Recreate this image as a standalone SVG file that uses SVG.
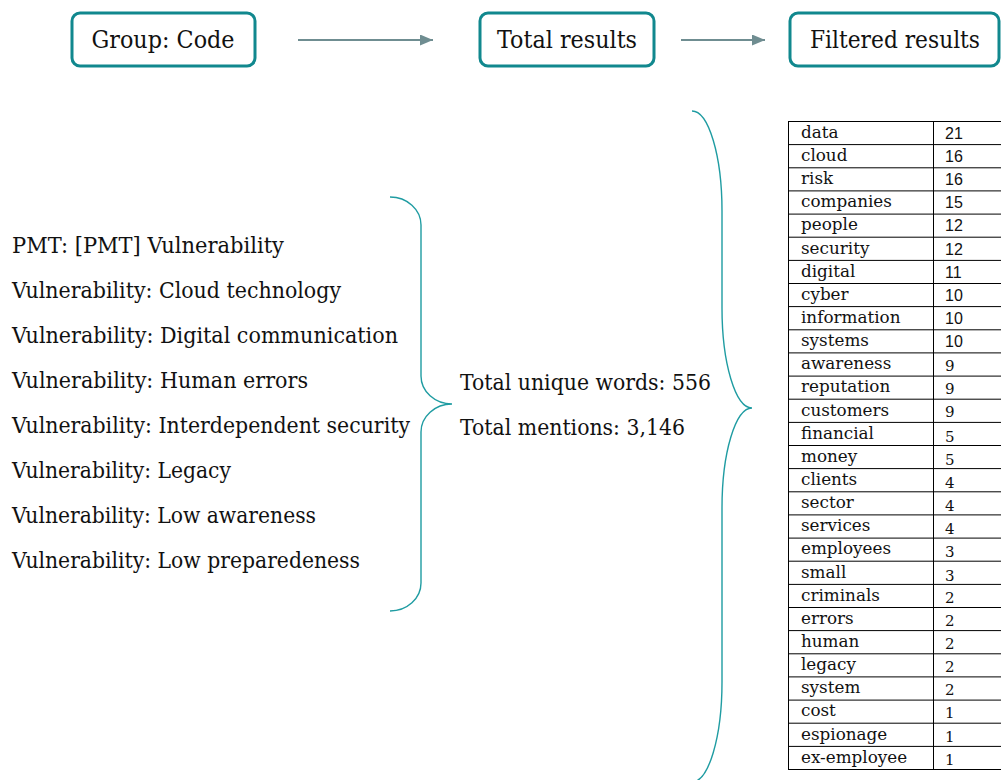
<svg xmlns="http://www.w3.org/2000/svg" width="1001" height="780" viewBox="0 0 1001 780">
  <style>
    .box { fill: #ffffff; stroke: #11888e; stroke-width: 3; }
    .hdr { font-family: "DejaVu Serif", "Liberation Serif", serif; font-size: 24px; fill: #111111; text-anchor: middle; }
    .lbl { font-family: "DejaVu Serif", "Liberation Serif", serif; font-size: 21.5px; fill: #111111; }
    .flow { stroke: #6f8d91; stroke-width: 2; fill: none; }
    .brace { stroke: #1f9ca2; stroke-width: 1.4; fill: none; }
    .grid { stroke: #000000; stroke-width: 1; fill: none; }
    .word { font-family: "DejaVu Serif", "Liberation Serif", serif; font-size: 16.8px; fill: #111111; }
    .num { font-family: "Liberation Sans", Arial, sans-serif; font-size: 16px; fill: #111111; }
    .numo { font-family: "DejaVu Serif", "Liberation Serif", serif; font-size: 15px; fill: #111111; }
  </style>
  <defs>
    <marker id="arrow" viewBox="0 0 13 11" refX="13" refY="5.5" markerWidth="13" markerHeight="11" markerUnits="userSpaceOnUse" orient="auto">
      <path d="M0,0 L13,5.5 L0,11 Z" fill="#6f8d91"/>
    </marker>
  </defs>

  <g id="node-group-code">
    <rect class="box" x="72" y="13" width="183" height="53" rx="8"/>
    <text class="hdr" x="163" y="48" textLength="143" lengthAdjust="spacingAndGlyphs">Group: Code</text>
  </g>
  <g id="node-total-results">
    <rect class="box" x="480" y="13" width="174" height="53" rx="8"/>
    <text class="hdr" x="567" y="48" textLength="140" lengthAdjust="spacingAndGlyphs">Total results</text>
  </g>
  <g id="node-filtered-results">
    <rect class="box" x="790" y="13" width="209" height="53" rx="8"/>
    <text class="hdr" x="895" y="48" textLength="170" lengthAdjust="spacingAndGlyphs">Filtered results</text>
  </g>

  <g id="connectors">
    <line class="flow" x1="298" y1="40" x2="433" y2="40" marker-end="url(#arrow)"/>
    <line class="flow" x1="681" y1="40" x2="765" y2="40" marker-end="url(#arrow)"/>
    <path class="brace" d="M390,197 A31,28 0 0 1 421,225 L421,376 A31,28 0 0 0 452,404 A31,28 0 0 0 421,432 L421,583 A31,28 0 0 1 390,611"/>
    <path class="brace" d="M692,111 A30,100 0 0 1 722,211 L722,308 A30,100 0 0 0 752,408 A30,100 0 0 0 722,508 L722,682 A30,100 0 0 1 692,782"/>
  </g>

  <g id="node-codes">
    <text class="lbl" x="12" y="253" textLength="272" lengthAdjust="spacingAndGlyphs">PMT: [PMT] Vulnerability</text>
    <text class="lbl" x="12" y="298" textLength="329" lengthAdjust="spacingAndGlyphs">Vulnerability: Cloud technology</text>
    <text class="lbl" x="12" y="343" textLength="386" lengthAdjust="spacingAndGlyphs">Vulnerability: Digital communication</text>
    <text class="lbl" x="12" y="388" textLength="296" lengthAdjust="spacingAndGlyphs">Vulnerability: Human errors</text>
    <text class="lbl" x="12" y="433" textLength="398" lengthAdjust="spacingAndGlyphs">Vulnerability: Interdependent security</text>
    <text class="lbl" x="12" y="478" textLength="219" lengthAdjust="spacingAndGlyphs">Vulnerability: Legacy</text>
    <text class="lbl" x="12" y="523" textLength="304" lengthAdjust="spacingAndGlyphs">Vulnerability: Low awareness</text>
    <text class="lbl" x="12" y="568" textLength="348" lengthAdjust="spacingAndGlyphs">Vulnerability: Low preparedeness</text>
  </g>

  <g id="node-totals">
    <text class="lbl" x="460" y="390" textLength="251" lengthAdjust="spacingAndGlyphs">Total unique words: 556</text>
    <text class="lbl" x="460" y="435" textLength="225" lengthAdjust="spacingAndGlyphs">Total mentions: 3,146</text>
  </g>

  <g id="node-word-table">
    <!-- outer frame and column divider -->
    <rect class="grid" x="788.5" y="121.5" width="214" height="648"/>
    <line class="grid" x1="933.5" y1="121.5" x2="933.5" y2="769.5"/>
    <!-- row separators every 23.14px -->
    <path class="grid" d="M788.5,144.6H1001 M788.5,167.8H1001 M788.5,190.9H1001 M788.5,214.1H1001 M788.5,237.2H1001 M788.5,260.4H1001 M788.5,283.5H1001 M788.5,306.6H1001 M788.5,329.8H1001 M788.5,352.9H1001 M788.5,376.1H1001 M788.5,399.2H1001 M788.5,422.4H1001 M788.5,445.5H1001 M788.5,468.6H1001 M788.5,491.8H1001 M788.5,514.9H1001 M788.5,538.1H1001 M788.5,561.2H1001 M788.5,584.4H1001 M788.5,607.5H1001 M788.5,630.6H1001 M788.5,653.8H1001 M788.5,676.9H1001 M788.5,700.1H1001 M788.5,723.2H1001 M788.5,746.4H1001"/>
    <g class="word">
      <text x="801" y="138">data</text>
      <text x="801" y="161">cloud</text>
      <text x="801" y="184">risk</text>
      <text x="801" y="207">companies</text>
      <text x="801" y="230">people</text>
      <text x="801" y="254">security</text>
      <text x="801" y="277">digital</text>
      <text x="801" y="300">cyber</text>
      <text x="801" y="323">information</text>
      <text x="801" y="346">systems</text>
      <text x="801" y="369">awareness</text>
      <text x="801" y="392">reputation</text>
      <text x="801" y="416">customers</text>
      <text x="801" y="439">financial</text>
      <text x="801" y="462">money</text>
      <text x="801" y="485">clients</text>
      <text x="801" y="508">sector</text>
      <text x="801" y="531">services</text>
      <text x="801" y="554">employees</text>
      <text x="801" y="578">small</text>
      <text x="801" y="601">criminals</text>
      <text x="801" y="624">errors</text>
      <text x="801" y="647">human</text>
      <text x="801" y="670">legacy</text>
      <text x="801" y="693">system</text>
      <text x="801" y="716">cost</text>
      <text x="801" y="740">espionage</text>
      <text x="801" y="763">ex-employee</text>
    </g>
    <g class="num">
      <text x="945" y="139">21</text>
      <text x="945" y="162">16</text>
      <text x="945" y="185">16</text>
      <text x="945" y="208">15</text>
      <text x="945" y="231">12</text>
      <text x="945" y="255">12</text>
      <text x="945" y="278">11</text>
      <text x="945" y="301">10</text>
      <text x="945" y="324">10</text>
      <text x="945" y="347">10</text>
    </g>
    <g class="numo">
      <text x="945" y="371">9</text>
      <text x="945" y="394">9</text>
      <text x="945" y="417">9</text>
      <text x="945" y="442">5</text>
      <text x="945" y="465">5</text>
      <text x="945" y="488">4</text>
      <text x="945" y="511">4</text>
      <text x="945" y="534">4</text>
      <text x="945" y="557">3</text>
      <text x="945" y="581">3</text>
      <text x="945" y="603">2</text>
      <text x="945" y="626">2</text>
      <text x="945" y="649">2</text>
      <text x="945" y="672">2</text>
      <text x="945" y="695">2</text>
      <text x="945" y="718">1</text>
      <text x="945" y="742">1</text>
      <text x="945" y="765">1</text>
    </g>
  </g>
</svg>
